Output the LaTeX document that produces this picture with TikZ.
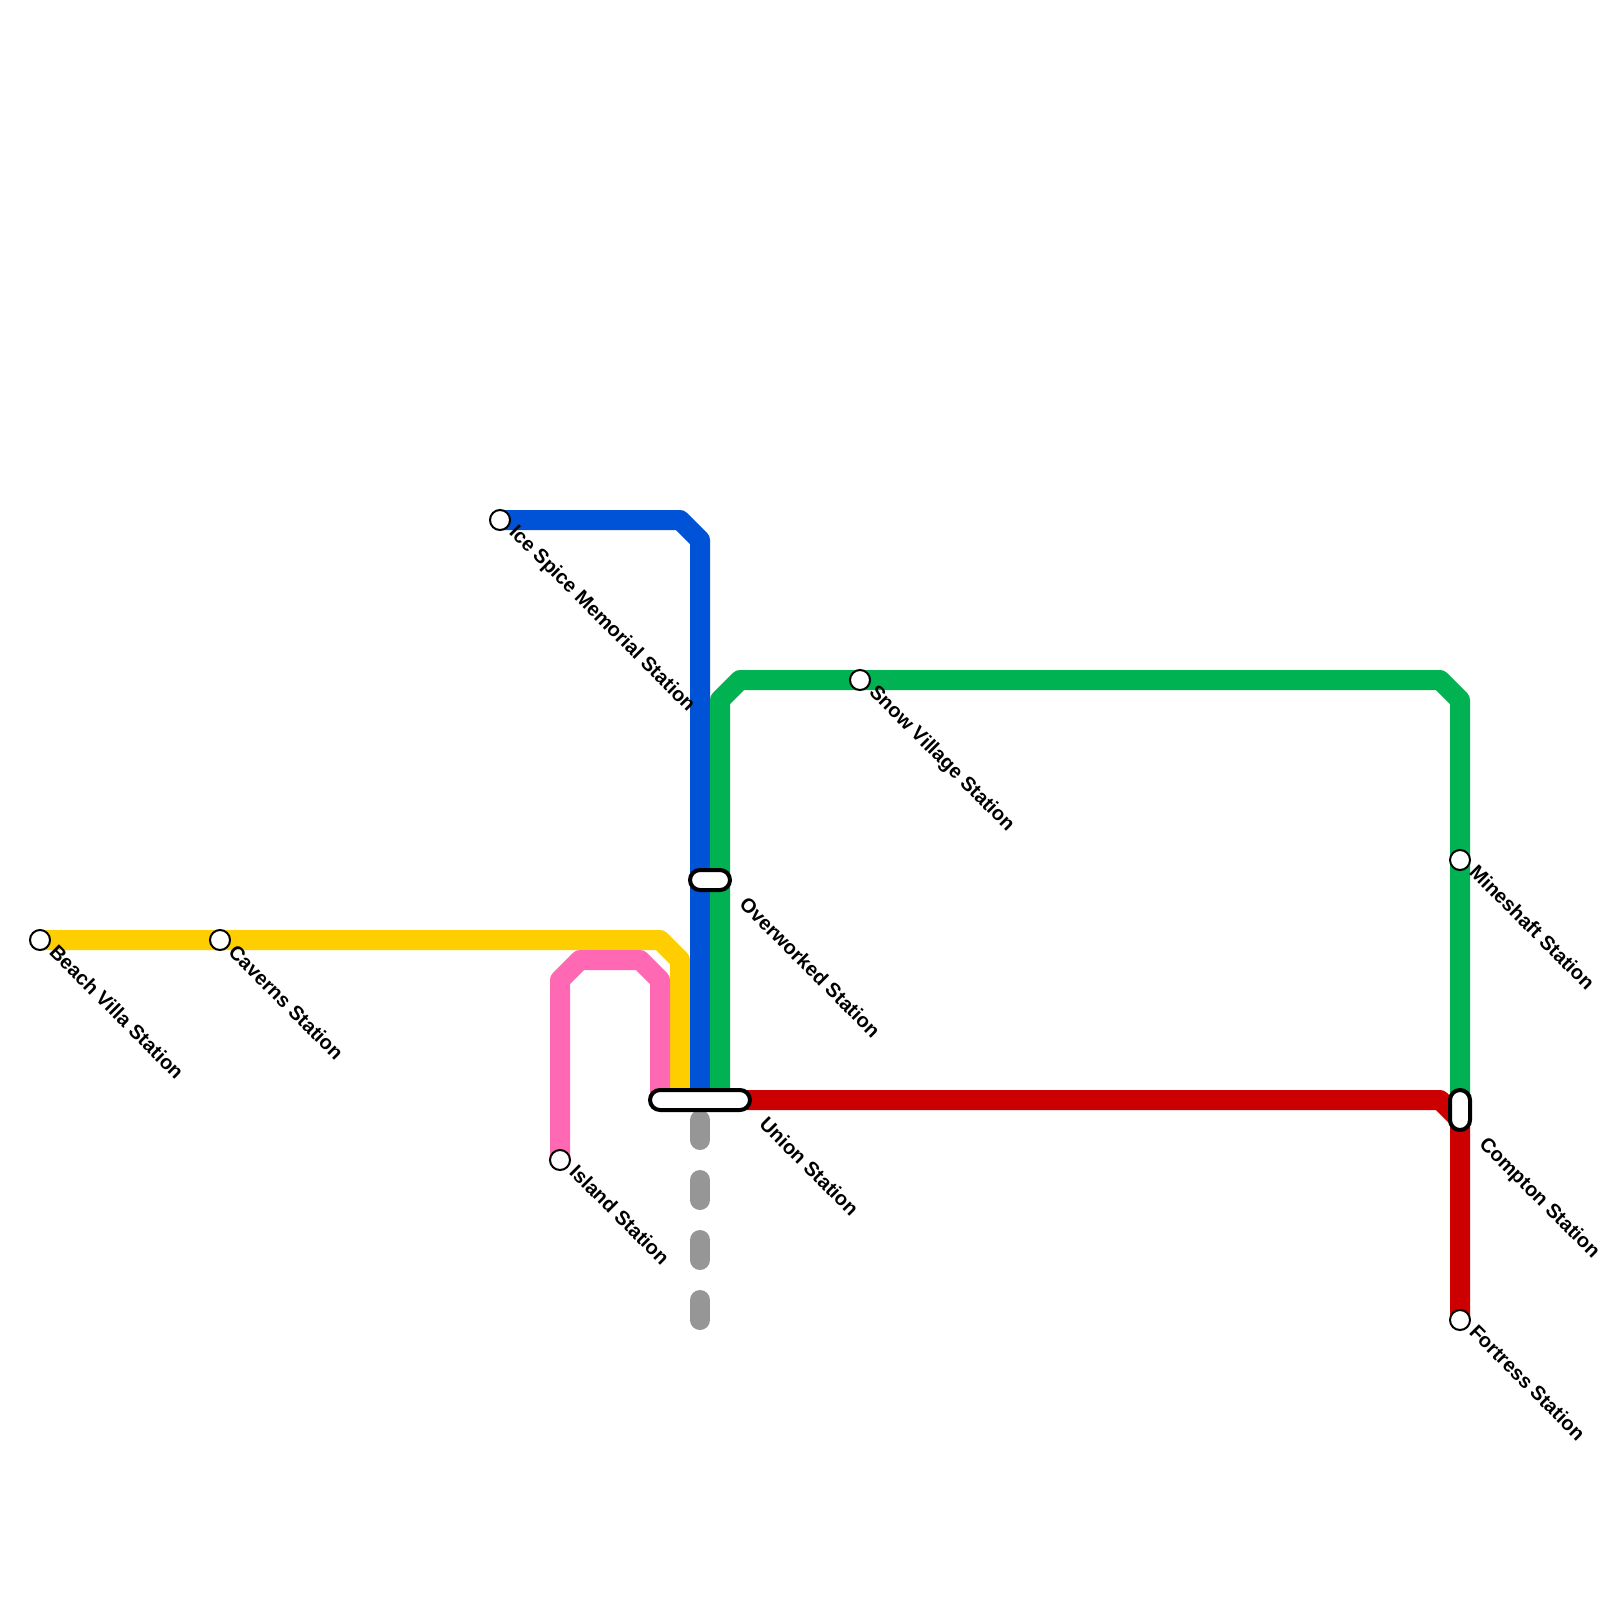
\documentclass[tikz,border=0pt]{standalone}
\usepackage{fontspec}
\setmainfont{Liberation Sans}
\tikzset{
  route/.style={line width=10pt,line join=round},
  stationdot/.style={circle,draw=black,fill=white,line width=1pt,minimum size=10pt,inner sep=0pt},
  interchange/.style={rectangle,draw=black,fill=white,line width=2pt,rounded corners=5pt,inner sep=0pt},
  stationlabel/.style={rotate=-45,anchor=base west,inner sep=0pt,font=\bfseries\fontsize{10pt}{12pt}\selectfont,text=black},
  future/.style={line width=10pt,draw=futuregray,line cap=round,dash pattern=on 10pt off 20pt},
}
\definecolor{yellowline}{HTML}{FFCE00}
\definecolor{pinkline}{HTML}{FF69B4}
\definecolor{blueline}{HTML}{0052D6}
\definecolor{greenline}{HTML}{00B251}
\definecolor{redline}{HTML}{CC0000}
\definecolor{futuregray}{HTML}{969696}
\begin{document}
\begin{tikzpicture}[x=0.5pt,y=-0.5pt]
\useasboundingbox (0,0) rectangle (1600,1600);
\fill[white] (0,0) rectangle (1600,1600);
% anchor points
\coordinate (yEnd) at (680,1100);
\coordinate (pEnd) at (660,1100);
\coordinate (bEnd) at (700,1100);
\coordinate (gEnd) at (720,1100);
\coordinate (gRight) at (1460,1100);
\coordinate (rStart) at (740,1100);
\coordinate (fStart) at (700,1120);
\coordinate (fEnd) at (700,1330);
\coordinate (beachC) at (40,940);
\coordinate (islandC) at (560,1160);
\coordinate (iceC) at (500,520);
\coordinate (fortC) at (1460,1320);
% routes
\draw[route,yellowline] (beachC) -- (660,940) -- (680,960) -- (yEnd);
\draw[route,pinkline] (islandC) -- (560,980) -- (580,960) -- (640,960) -- (660,980) -- (pEnd);
\draw[route,blueline] (iceC) -- (680,520) -- (700,540) -- (bEnd);
\draw[route,greenline] (gEnd) -- (720,700) -- (740,680) -- (1440,680) -- (1460,700) -- (gRight);
\draw[route,redline] (rStart) -- (1440,1100) -- (1460,1120) -- (fortC);
\draw[future] (fStart) -- (fEnd);
% stations
\node[stationdot] (beach) at (beachC) {};
\node[stationdot] (caverns) at (220,940) {};
\node[stationdot] (ice) at (iceC) {};
\node[stationdot] (island) at (islandC) {};
\node[stationdot] (snow) at (860,680) {};
\node[stationdot] (mine) at (1460,860) {};
\node[stationdot] (fort) at (fortC) {};
\node[interchange,minimum width=20pt,minimum height=10pt] (over) at (710,880) {};
\node[interchange,minimum width=50pt,minimum height=10pt] (union) at (700,1100) {};
\node[interchange,minimum width=10pt,minimum height=20pt] (compton) at (1460,1110) {};
% labels
\node[stationlabel] (lbeach) at (48,953) {Beach Villa Station};
\node[stationlabel] (lcaverns) at (227,953) {Caverns Station};
\node[stationlabel] (lice) at (508,533) {Ice Spice Memorial Station};
\node[stationlabel] (lisland) at (568,1173) {Island Station};
\node[stationlabel] (lsnow) at (868,693) {Snow Village Station};
\node[stationlabel] (lmine) at (1468,873) {Mineshaft Station};
\node[stationlabel] (lfort) at (1468,1333) {Fortress Station};
\node[stationlabel] (lover) at (738,905) {Overworked Station};
\node[stationlabel] (lunion) at (758,1125) {Union Station};
\node[stationlabel] (lcompton) at (1478,1145) {Compton Station};
\end{tikzpicture}
\end{document}
